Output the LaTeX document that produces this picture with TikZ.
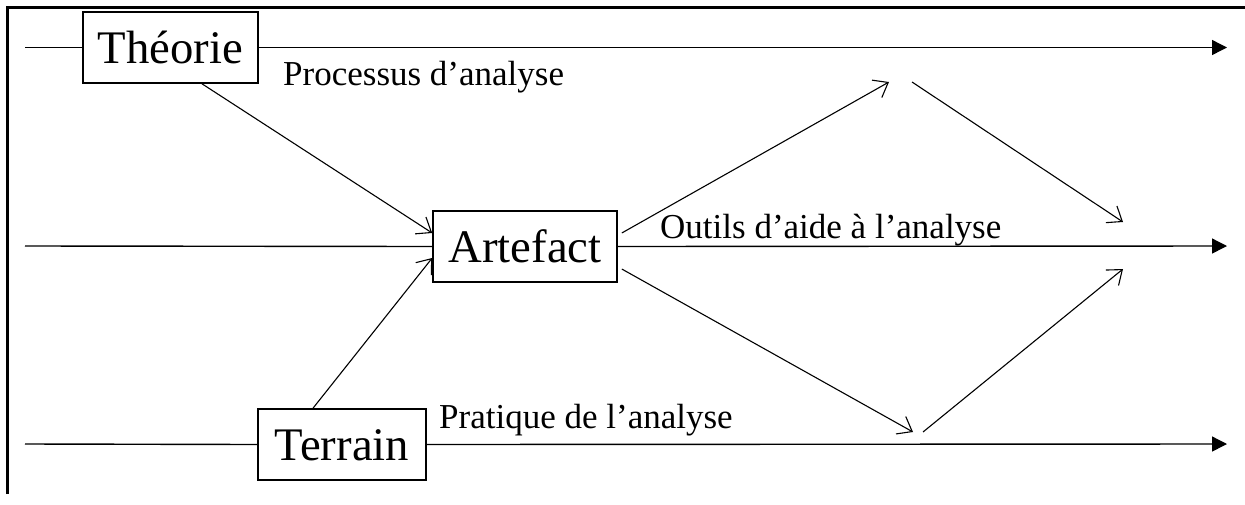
\documentclass[tikz,border=0pt]{standalone}
\usepackage{fontspec}
\setmainfont{Liberation Serif}
\usetikzlibrary{arrows.meta,calc}
\tikzset{
  bigbox/.style={draw, line width=1.6pt, font=\fontsize{46.7}{56}\selectfont,
    minimum height=71pt, text height=31pt, text depth=0pt, inner sep=0pt},
  lbl/.style={anchor=base west, inner sep=0pt, font=\fontsize{35}{42}\selectfont},
  axis/.style={line width=1.4pt, -{Triangle[length=15pt,width=15pt]}},
  plain/.style={line width=1.4pt},
  flow/.style={line width=1.1pt, -{Straight Barb[length=13pt,width=20pt,line width=1.1pt]}},
  frame/.style={line width=2.6pt}
}
\begin{document}
\begin{tikzpicture}[x=1pt,y=-1pt]
\useasboundingbox (0,0) rectangle (1245,504);
% frame (top and left sides visible)
\coordinate (fb) at (7.3,494);
\coordinate (fc) at (7.3,7.3);
\coordinate (fr) at (1245,7.3);
\draw[frame] (fb) -- (fc) -- (fr);

% boxes
\node[bigbox, minimum width=175pt] (T) at (170.5,47.5) {Théorie};
\node[bigbox, minimum width=184pt] (A) at (525,246.5) {Artefact};
\node[bigbox, minimum width=168pt] (R) at (342,444.5) {Terrain};

% line ends
\coordinate (tl) at (25,47.5);
\coordinate (tr) at (1227,47.5);
\coordinate (ml) at (25,246);
\coordinate (mr) at (1227,246);
\coordinate (bl) at (25,444);
\coordinate (br) at (1227,444);

\draw[plain] (tl) -- (T.west);
\draw[axis] (T.east) -- (tr);
\draw[plain] (ml) -- (A.west);
\draw[axis] (A.east) -- (mr);
\draw[plain] (bl) -- (R.west);
\draw[axis] (R.east) -- (br);

% labels
\node[lbl] (p1) at (283,85) {Processus d’analyse};
\node[lbl] (p2) at (660,238) {Outils d’aide à l’analyse};
\node[lbl] (p3) at (439,428) {Pratique de l’analyse};

% junction points
\coordinate (u1) at (889,82);
\coordinate (u2) at (912,82);
\coordinate (d1) at (913,432);
\coordinate (d2) at (923,432);
\coordinate (r1) at (1123,222);
\coordinate (r2) at (1123,269);

\draw[flow] ($(T.south)+(31.5,0)$) -- ($(A.west)+(0,-13.5)$);
\draw[flow] ($(R.north)+(-29,0)$) -- ($(A.west)+(0,11.5)$);
\draw[flow] ($(A.east)+(4,-13.5)$) -- (u1);
\draw[flow] (u2) -- (r1);
\draw[flow] ($(A.east)+(4,22.5)$) -- (d1);
\draw[flow] (d2) -- (r2);
\end{tikzpicture}
\end{document}
